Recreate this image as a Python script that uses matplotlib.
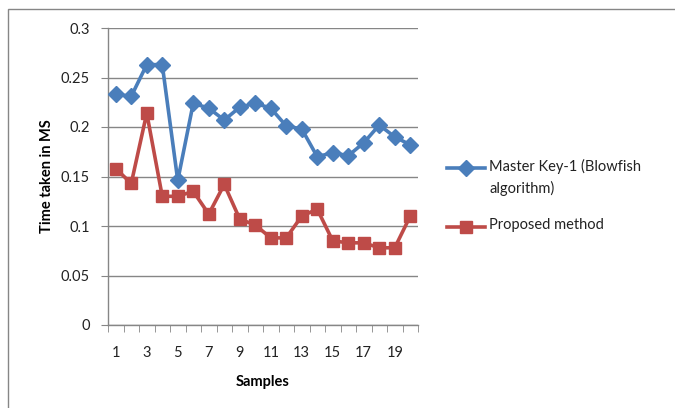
import numpy as np
import matplotlib.pyplot as plt
from matplotlib.lines import Line2D
from matplotlib.patches import Rectangle

plt.rcParams['font.family'] = ['Lato', 'DejaVu Sans']

samples = list(range(1, 21))
blowfish = [0.233, 0.231, 0.263, 0.263, 0.146, 0.224, 0.219, 0.207, 0.220, 0.224,
            0.219, 0.201, 0.198, 0.170, 0.174, 0.171, 0.184, 0.202, 0.190, 0.182]
proposed = [0.158, 0.143, 0.214, 0.130, 0.130, 0.135, 0.112, 0.142, 0.107, 0.101,
            0.088, 0.088, 0.110, 0.117, 0.085, 0.083, 0.083, 0.078, 0.078, 0.110]
yticks = [0, 0.05, 0.1, 0.15, 0.2, 0.25, 0.3]
xlabels = [1, 3, 5, 7, 9, 11, 13, 15, 17, 19]

blue = '#4A7EBB'
red = '#BE4B48'
grey = '#868686'
lw = 2.6

fig = plt.figure(figsize=(6.75, 4.08), dpi=100)
fig.add_artist(Rectangle((8 / 675, -0.1), 1.1, (408 - 9) / 408 + 0.1,
                         transform=fig.transFigure, fill=False,
                         edgecolor=grey, linewidth=1))

ax = fig.add_axes([108 / 675, 83 / 408, 310 / 675, 297 / 408])

ax.plot(samples, blowfish, color=blue, linewidth=lw, marker='D',
        markersize=8, zorder=3)
ax.plot(samples, proposed, color=red, linewidth=lw, marker='s',
        markersize=9, zorder=3)

ax.set_xlim(0.5, 20.5)
ax.set_ylim(0, 0.3)
ax.set_yticks(yticks)
ax.set_yticklabels(['0' if v == 0 else ('%g' % v) for v in yticks])
ax.set_xticks(xlabels)
ax.set_xticklabels([str(v) for v in xlabels])
ax.set_xticks(np.arange(0.5, 21, 1), minor=True)
ax.tick_params(axis='x', which='major', length=0, pad=15, labelsize=10.5,
               labelcolor='#222222')
ax.tick_params(axis='x', which='minor', length=5, color=grey, direction='out')
ax.tick_params(axis='y', length=5, color=grey, direction='out', pad=8,
               labelsize=10.5, labelcolor='#222222')

ax.grid(axis='y', color=grey, linewidth=1)
ax.set_axisbelow(True)
for side in ['top', 'right']:
    ax.spines[side].set_visible(False)
for side in ['left', 'bottom']:
    ax.spines[side].set_color(grey)
    ax.spines[side].set_linewidth(1)

ax.set_xlabel('Samples', fontweight='bold', fontsize=10.5, labelpad=11)
ax.set_ylabel('Time taken in MS', fontweight='bold', fontsize=10.5, labelpad=5)

# legend drawn by hand so the handle sits beside the first text line
for yl, col, mk, ms, label in [(168, blue, 'D', 8, 'Master Key-1 (Blowfish\nalgorithm)'),
                               (227, red, 's', 9, 'Proposed method')]:
    yf = 1 - yl / 408
    fig.add_artist(Line2D([447 / 675, 485 / 675], [yf, yf], color=col,
                          linewidth=lw, transform=fig.transFigure))
    fig.add_artist(Line2D([466 / 675], [yf], color=col, marker=mk,
                          markersize=ms, transform=fig.transFigure))
    fig.text(489 / 675, yf + 9 / 408, label, fontsize=10.5, va='top',
             ha='left', color='#222222', linespacing=1.55)

fig.savefig('out.png', dpi=100)
